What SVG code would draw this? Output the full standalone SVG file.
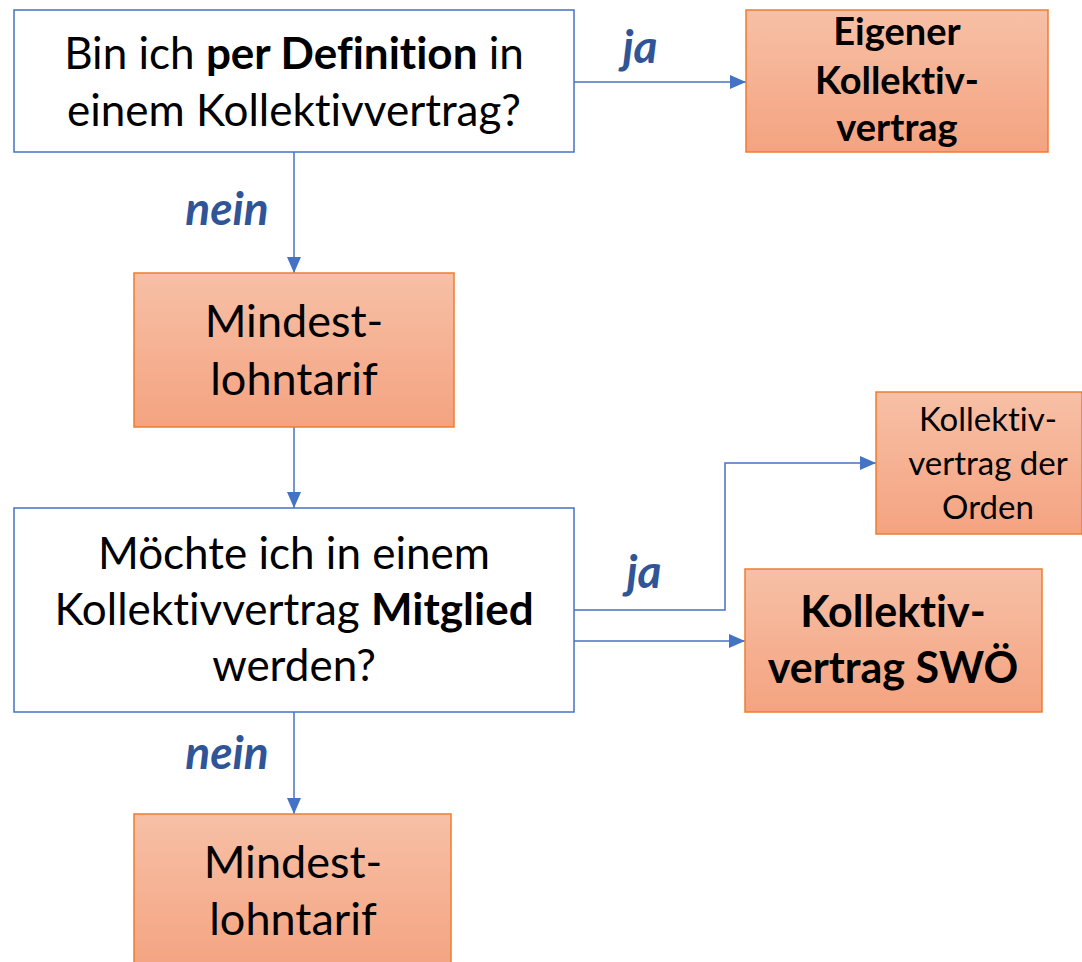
<svg xmlns="http://www.w3.org/2000/svg" width="1082" height="962" viewBox="0 0 1082 962">
<defs>
<linearGradient id="og" x1="0" y1="0" x2="0" y2="1">
<stop offset="0" stop-color="#F7C0A6"/>
<stop offset="1" stop-color="#F4A380"/>
</linearGradient>
<marker id="ah2" markerWidth="16" markerHeight="14" refX="16" refY="7" orient="auto" markerUnits="userSpaceOnUse" viewBox="0 0 16 14">
<path d="M0,0 L16,7 L0,14 z" fill="#4472C4"/>
</marker>
</defs>
<style>
.q{fill:#fff;stroke:#4472C4;stroke-width:1.5}
.o{fill:url(#og);stroke:#ED7D31;stroke-width:1.5}
text{font-family:Lato,"Open Sans","Liberation Sans",sans-serif;fill:#000;text-anchor:middle;font-variant-ligatures:none;font-feature-settings:"liga" 0}
.lbl{font-weight:bold;font-style:italic;fill:#2F5597;font-size:46px}
.c{fill:none;stroke:#4472C4;stroke-width:1.5}
</style>
<rect width="1082" height="962" fill="#fff"/>
<g id="connectors">
<path class="c" d="M574,82 H746" marker-end="url(#ah2)"/>
<path class="c" d="M294,152 V273" marker-end="url(#ah2)"/>
<path class="c" d="M294,427 V508" marker-end="url(#ah2)"/>
<path class="c" d="M574,610 H725 V463 H876" marker-end="url(#ah2)"/>
<path class="c" d="M574,641 H745" marker-end="url(#ah2)"/>
<path class="c" d="M294,712 V814" marker-end="url(#ah2)"/>
<text class="lbl" x="640" y="63">ja</text>
<text class="lbl" x="227" y="225">nein</text>
<text class="lbl" x="644" y="588">ja</text>
<text class="lbl" x="227" y="769">nein</text>
</g>
<g id="q1">
<rect class="q" x="14" y="10" width="560" height="142"/>
<text x="294" y="69" font-size="44">Bin ich <tspan font-weight="bold">per Definition</tspan> in</text>
<text x="294" y="126" font-size="44">einem Kollektivvertrag?</text>
</g>
<g id="eigener">
<rect class="o" x="746" y="10" width="302" height="142"/>
<text x="897" y="45" font-size="38" font-weight="bold">Eigener</text>
<text x="897" y="94" font-size="38" font-weight="bold">Kollektiv-</text>
<text x="897" y="141" font-size="38" font-weight="bold">vertrag</text>
</g>
<g id="mindest1">
<rect class="o" x="134" y="273" width="320" height="154"/>
<text x="294" y="337" font-size="45">Mindest-</text>
<text x="294" y="395" font-size="45">lohntarif</text>
</g>
<g id="q2">
<rect class="q" x="14" y="508" width="560" height="204"/>
<text x="294" y="569" font-size="44">Möchte ich in einem</text>
<text x="294" y="625" font-size="44">Kollektivvertrag <tspan font-weight="bold">Mitglied</tspan></text>
<text x="294" y="681" font-size="44">werden?</text>
</g>
<g id="orden">
<rect class="o" x="876" y="392" width="206" height="142"/>
<text x="988" y="431" font-size="33">Kollektiv-</text>
<text x="988" y="475" font-size="33">vertrag der</text>
<text x="988" y="519" font-size="33">Orden</text>
</g>
<g id="swoe">
<rect class="o" x="745" y="569" width="297" height="143"/>
<text x="893" y="627" font-size="43" font-weight="bold">Kollektiv-</text>
<text x="893" y="683" font-size="43" font-weight="bold">vertrag SWÖ</text>
</g>
<g id="mindest2">
<rect class="o" x="134" y="814" width="317" height="160"/>
<text x="293" y="878" font-size="45">Mindest-</text>
<text x="293" y="935" font-size="45">lohntarif</text>
</g>
</svg>
